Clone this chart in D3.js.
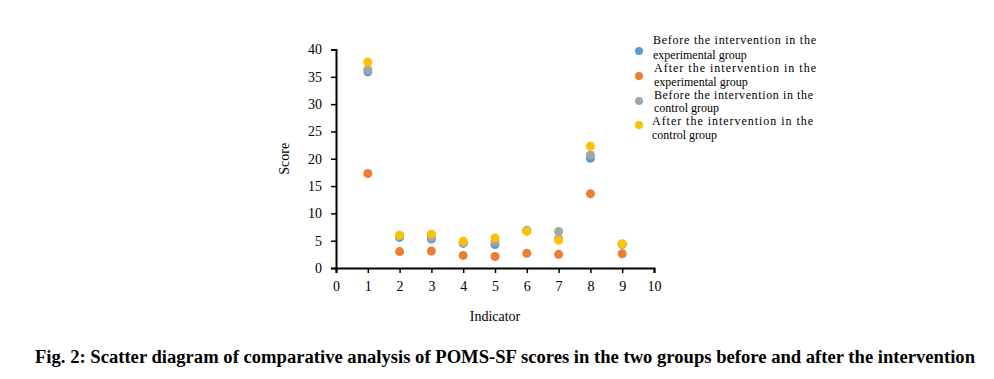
<!DOCTYPE html>
<html>
<head>
<meta charset="utf-8">
<script src="https://cdn.jsdelivr.net/npm/d3@7"></script>
<style>
  body { margin: 0; background: #fff; }
  text { font-family: "Liberation Serif", "Times New Roman", serif; }
</style>
</head>
<body>
<div id="chart"></div>
<script>
const width = 994, height = 379;

// Data
const indicators = [1, 2, 3, 4, 5, 6, 7, 8, 9];
const beforeExp  = [35.9, 5.6, 5.3, 4.5, 4.3, 6.8, 5.3, 20.1, 4.3];
const afterExp   = [17.3, 3.0, 3.1, 2.3, 2.1, 2.7, 2.5, 13.6, 2.6];
const beforeCtrl = [36.3, 5.9, 5.6, 4.6, 4.8, 6.9, 6.7, 20.7, 4.4];
const afterCtrl  = [37.7, 6.0, 6.2, 4.9, 5.5, 6.7, 5.1, 22.3, 4.4];
const yTicks = [0, 5, 10, 15, 20, 25, 30, 35, 40];
const xTicks = [0, 1, 2, 3, 4, 5, 6, 7, 8, 9, 10];

const series = [
    { name: ["Before the intervention in the", "experimental group"], values: beforeExp, color: "#5B9BD5" },
    { name: ["After the intervention in the", "experimental group"], values: afterExp, color: "#ED7D31" },
    { name: ["Before the intervention in the", "control group"], values: beforeCtrl, color: "#A5A5A5" },
    { name: ["After the intervention in the", "control group"], values: afterCtrl, color: "#FFC000" }
];

const svg = d3.select("#chart")
    .append("svg")
    .attr("width", width)
    .attr("height", height);

const x = d3.scaleLinear().domain([0, 10]).range([336, 654]);
const y = d3.scaleLinear().domain([0, 40]).range([268, 49.5]);

// Axes
const xAxis = svg.append("g")
    .attr("transform", `translate(0,${y(0)})`)
    .call(d3.axisBottom(x).tickValues(xTicks).tickSize(5).tickPadding(8).tickFormat(d3.format("d")));
const yAxis = svg.append("g")
    .attr("transform", `translate(${x(0)},0)`)
    .call(d3.axisLeft(y).tickValues(yTicks).tickSize(5).tickPadding(9).tickFormat(d3.format("d")));

[xAxis, yAxis].forEach(a => {
    a.select(".domain").attr("stroke", "#000").attr("stroke-width", 2);
    a.selectAll(".tick line").attr("stroke", "#000").attr("stroke-width", 1.5);
    a.selectAll(".tick text")
        .attr("fill", "#000")
        .attr("font-size", "14px")
        .attr("font-family", "Liberation Serif, serif");
});

// Axis titles
svg.append("text")
    .attr("x", x(5))
    .attr("y", 321)
    .attr("text-anchor", "middle")
    .attr("font-size", "14px")
    .text("Indicator");
svg.append("text")
    .attr("transform", `translate(289,${y(20)}) rotate(-90)`)
    .attr("text-anchor", "middle")
    .attr("font-size", "14px")
    .text("Score");

// Points
series.forEach(s => {
    svg.append("g")
        .selectAll("circle")
        .data(indicators.map((d, i) => ({ ind: d, v: s.values[i] })))
        .enter()
        .append("circle")
        .attr("cx", d => x(d.ind))
        .attr("cy", d => y(d.v))
        .attr("r", 4.5)
        .attr("fill", s.color);
});

// Legend
const legendRows = [
    { marker: 51, line1: 44, line2: 58.5, x0: 653, x1: 816 },
    { marker: 76, line1: 72, line2: 85.5, x0: 654, x1: 816 },
    { marker: 101, line1: 99, line2: 112, x0: 654, x1: 813 },
    { marker: 125, line1: 125, line2: 139, x0: 652, x1: 813 }
];
series.forEach((s, i) => {
    const r = legendRows[i];
    svg.append("circle").attr("cx", 639).attr("cy", r.marker).attr("r", 4).attr("fill", s.color);
    svg.append("text")
        .attr("x", r.x0).attr("y", r.line1)
        .attr("font-size", "12px")
        .attr("textLength", r.x1 - r.x0)
        .attr("lengthAdjust", "spacing")
        .text(s.name[0]);
    svg.append("text")
        .attr("x", r.x0).attr("y", r.line2)
        .attr("font-size", "12px")
        .text(s.name[1]);
});

// Caption
svg.append("text")
    .attr("x", 505)
    .attr("y", 363)
    .attr("text-anchor", "middle")
    .attr("font-size", "18px")
    .attr("font-weight", "bold")
    .attr("textLength", 940)
    .attr("lengthAdjust", "spacingAndGlyphs")
    .text("Fig. 2: Scatter diagram of comparative analysis of POMS-SF scores in the two groups before and after the intervention");
</script>
</body>
</html>
